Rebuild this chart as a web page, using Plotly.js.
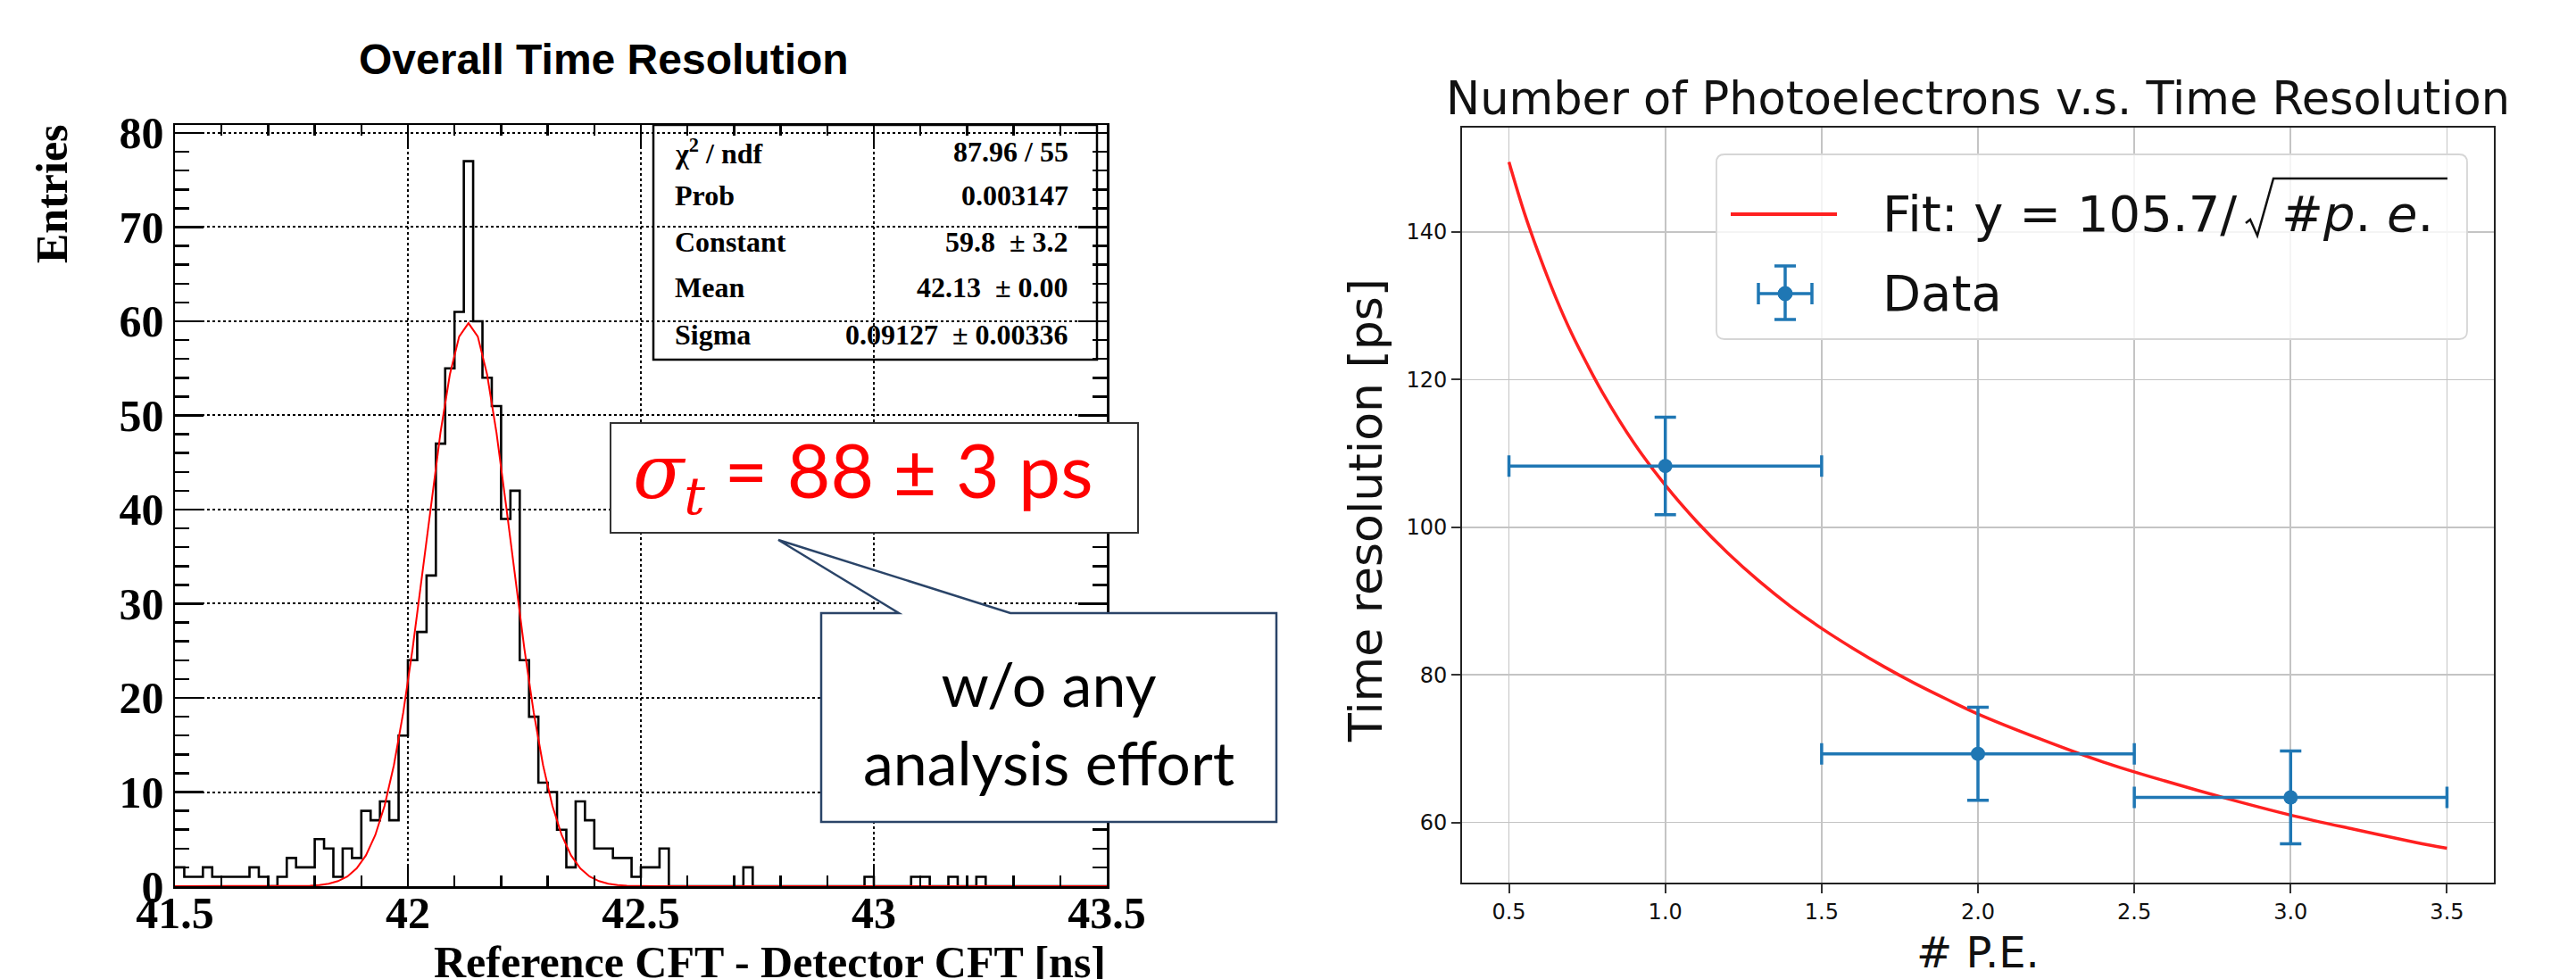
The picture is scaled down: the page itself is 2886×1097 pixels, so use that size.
<!DOCTYPE html>
<html>
<head>
<meta charset="utf-8">
<script src="https://cdn.plot.ly/plotly-3.0.1.min.js"></script>
<style>html,body{margin:0;padding:0;background:#fff;}#chart{width:2886px;height:1097px;}</style>
</head>
<body>
<div id="chart"></div>
<script>
// ---------- Left panel: histogram (ROOT style) ----------
const histBinStart = 41.5;
const histBinWidth = 0.02;
const histCounts = [
  2,1,1,2,1,1,1,1,2,1,
  0,1,3,2,2,5,4,1,4,3,
  8,7,9,7,16,24,27,33,47,55,
  61,77,60,54,51,39,42,24,18,11,
  10,6,2,9,7,4,4,3,3,1,
  2,2,4,0,0,0,0,0,0,0,
  0,2,0,0,0,0,0,0,0,0,
  0,0,0,0,1,0,0,0,0,1,
  1,0,0,1,0,0,1,0,0,0,
  0,0,0,0,0,0,0,0,0,0
];
// Gaussian fit curve
const gausX = [41.5, 41.73,41.75,41.77,41.79,41.81,41.83,41.85,41.87,41.89,41.91,41.93,41.95,41.97,41.99,
  42.01,42.03,42.05,42.07,42.09,42.11,42.13,42.15,42.17,42.19,42.21,42.23,42.25,42.27,42.29,
  42.31,42.33,42.35,42.37,42.39,42.41,42.43,42.45,42.47,42.49,42.51,42.53, 43.5];
const gausY = [0, 0.004,0.010,0.025,0.058,0.128,0.27,0.54,1.03,1.89,3.28,5.43,8.55,12.87,18.44,
  25.19,32.80,40.70,48.20,54.33,58.38,59.80,58.38,54.33,48.20,40.70,32.80,25.19,18.44,12.87,
  8.55,5.43,3.28,1.89,1.03,0.54,0.27,0.128,0.058,0.025,0.010,0.004, 0];
const statLabels = ["χ<sup>2</sup> / ndf", "Prob", "Constant", "Mean", "Sigma"];
const statValues = ["87.96 / 55", "0.003147", "59.8 \u00a0± 3.2", "42.13 \u00a0± 0.00", "0.09127 \u00a0± 0.00336"];
const leftXTicks = [41.5, 42, 42.5, 43, 43.5];
const leftYTicks = [0, 10, 20, 30, 40, 50, 60, 70, 80];

// ---------- Right panel: photoelectrons vs time resolution ----------
const peX = [1, 2, 3];
const peY = [108.3, 69.3, 63.4];
const peXErr = [0.5, 0.5, 0.5];
const peYErr = [6.6, 6.3, 6.3];
const fitCurveX = [0.5,0.55,0.6,0.65,0.7,0.75,0.8,0.9,1.0,1.1,1.2,1.3,1.4,1.5,1.6,1.7,1.8,1.9,2.0,2.2,2.4,2.6,2.8,3.0,3.2,3.4,3.5];
const fitCurveY = [149.5,142.5,136.5,131.1,126.3,122.1,118.2,111.4,105.7,100.8,96.5,92.7,89.3,86.3,83.6,81.1,78.8,76.7,74.7,71.3,68.2,65.6,63.2,61.0,59.1,57.3,56.5];
const rightXTicks = [0.5, 1.0, 1.5, 2.0, 2.5, 3.0, 3.5];
const rightYTicks = [60, 80, 100, 120, 140];

// ---------- helpers ----------
const W = 2886, H = 1097;
const px = x => x / W;
const py = y => 1 - y / H;

// histogram step outline from bin edges
const histEdges = histCounts.map((c, i) => +(histBinStart + i * histBinWidth).toFixed(4));
histEdges.push(+(histBinStart + histCounts.length * histBinWidth).toFixed(4));
const histStepY = histCounts.concat([histCounts[histCounts.length - 1]]);

const traces = [
  {x: histEdges, y: histStepY, type: 'scatter', mode: 'lines', line: {shape: 'hv', color: '#000', width: 2.6},
   xaxis: 'x', yaxis: 'y', hoverinfo: 'skip'},
  {x: gausX, y: gausY, type: 'scatter', mode: 'lines', line: {color: '#ff0000', width: 2},
   xaxis: 'x', yaxis: 'y', hoverinfo: 'skip'},
  {x: fitCurveX, y: fitCurveY, type: 'scatter', mode: 'lines', line: {color: '#ff2020', width: 3.5, shape: 'spline', smoothing: 1},
   xaxis: 'x2', yaxis: 'y2', name: 'Fit'},
  {x: peX, y: peY, type: 'scatter', mode: 'markers', marker: {color: '#1f77b4', size: 16},
   error_x: {type: 'data', array: peXErr, color: '#1f77b4', thickness: 3.5, width: 12},
   error_y: {type: 'data', array: peYErr, color: '#1f77b4', thickness: 3.5, width: 12},
   xaxis: 'x2', yaxis: 'y2', name: 'Data'}
];

const rootFont = {family: 'Liberation Serif, Times New Roman, serif', size: 50, color: '#000', weight: 'bold'};
const mplFont = {family: 'DejaVu Sans, sans-serif', color: '#111'};

const layout = {
  width: W, height: H,
  margin: {l: 0, r: 0, t: 0, b: 0},
  paper_bgcolor: '#fff', plot_bgcolor: 'rgba(0,0,0,0)',
  showlegend: false,
  xaxis: {
    domain: [px(196), px(1240)], range: [41.5, 43.5], anchor: 'y',
    tickmode: 'array', tickvals: leftXTicks,
    ticks: 'inside', ticklen: 24, tickwidth: 2.5, tickcolor: '#000',
    minor: {dtick: 0.1, tick0: 41.5, ticks: 'inside', ticklen: 12, tickwidth: 2.5, tickcolor: '#000', showgrid: false},
    showline: true, linecolor: '#000', linewidth: 2.5, mirror: 'ticks',
    showgrid: true, gridcolor: '#000', gridwidth: 2, griddash: 'dot',
    zeroline: false, tickfont: rootFont, ticklabelstandoff: -16
  },
  yaxis: {
    domain: [py(993), py(140)], range: [0, 80.85], anchor: 'x',
    tickmode: 'array', tickvals: leftYTicks,
    ticks: 'inside', ticklen: 32, tickwidth: 2.5, tickcolor: '#000',
    minor: {dtick: 2, tick0: 0, ticks: 'inside', ticklen: 16, tickwidth: 2.5, tickcolor: '#000', showgrid: false},
    showline: true, linecolor: '#000', linewidth: 2.5, mirror: 'ticks',
    showgrid: true, gridcolor: '#000', gridwidth: 2, griddash: 'dot',
    zeroline: false, tickfont: rootFont
  },
  xaxis2: {
    domain: [px(1638), px(2794)], range: [0.35, 3.65], anchor: 'y2',
    tickmode: 'array', tickvals: rightXTicks, tickformat: '.1f',
    ticks: 'outside', ticklen: 10, tickwidth: 2, tickcolor: '#333',
    showline: true, linecolor: '#222', linewidth: 2, mirror: true,
    showgrid: true, gridcolor: '#c4c4c4', gridwidth: 1.8,
    zeroline: false, tickfont: Object.assign({size: 24}, mplFont)
  },
  yaxis2: {
    domain: [py(989), py(143)], range: [51.85, 154.15], anchor: 'x2',
    tickmode: 'array', tickvals: rightYTicks,
    ticks: 'outside', ticklen: 10, tickwidth: 2, tickcolor: '#333',
    showline: true, linecolor: '#222', linewidth: 2, mirror: true,
    showgrid: true, gridcolor: '#c4c4c4', gridwidth: 1.8,
    zeroline: false, tickfont: Object.assign({size: 24}, mplFont)
  },
  shapes: [],
  annotations: []
};

const A = layout.annotations, S = layout.shapes;
function ann(x, y, text, font, extra) {
  A.push(Object.assign({xref: 'paper', yref: 'paper', x: px(x), y: py(y), text: text, showarrow: false,
    font: font, xanchor: 'center', yanchor: 'middle'}, extra || {}));
}
function pathOf(pts, close) {
  return pts.map((p, i) => (i ? 'L' : 'M') + px(p[0]).toFixed(6) + ',' + py(p[1]).toFixed(6)).join(' ') + (close ? ' Z' : '');
}

// ---- left panel texts ----
ann(676, 66, 'Overall Time Resolution', {family: 'Liberation Sans, Arial, sans-serif', size: 48, color: '#000', weight: 'bold'});
ann(1241, 1078, 'Reference CFT - Detector CFT [ns]', rootFont, {xanchor: 'right'});
ann(58, 217, 'Entries', rootFont, {textangle: -90});

// stats box
S.push({type: 'rect', xref: 'paper', yref: 'paper', x0: px(732), x1: px(1229), y0: py(403), y1: py(140),
  line: {color: '#000', width: 2.5}, fillcolor: 'rgba(0,0,0,0)', layer: 'above'});
const statY = [170, 219, 271, 322, 375];
const statFont = {family: 'Liberation Serif, Times New Roman, serif', size: 32, color: '#000', weight: 'bold'};
statLabels.forEach((t, i) => ann(754, statY[i], t, statFont, {xanchor: 'left'}));
statValues.forEach((t, i) => ann(1199, statY[i], t, statFont, {xanchor: 'right'}));

// callout 1
S.push({type: 'rect', xref: 'paper', yref: 'paper', x0: px(684), x1: px(1275), y0: py(597), y1: py(474),
  line: {color: '#333', width: 2}, fillcolor: '#fff', layer: 'above'});
ann(967, 532, '<span style="font-family:DejaVu Serif"><i>σ</i><sub><i>t</i></sub></span> = 88 ± 3 ps',
  {family: 'Lato, Open Sans, sans-serif', size: 84, color: '#ff0000'});

// callout 2 (speech bubble)
S.push({type: 'path', xref: 'paper', yref: 'paper', layer: 'above',
  path: pathOf([[920, 687], [1007, 687], [872, 605], [1132, 687], [1430, 687], [1430, 921], [920, 921]], true),
  line: {color: '#2a4468', width: 2.5}, fillcolor: '#fff'});
ann(1175, 809, 'w/o any<br>analysis effort', {family: 'Lato, Open Sans, sans-serif', size: 68, color: '#000'});

// ---- right panel texts ----
ann(2216, 110, 'Number of Photoelectrons v.s. Time Resolution', Object.assign({size: 51}, mplFont));
ann(2216, 1067, '# P.E.', Object.assign({size: 48}, mplFont));
ann(1530, 572, 'Time resolution [ps]', Object.assign({size: 52}, mplFont), {textangle: -90});

// legend (matplotlib style)
const lx0 = 1923, lx1 = 2764, ly0 = 173, ly1 = 380, r = 9;
S.push({type: 'path', xref: 'paper', yref: 'paper', layer: 'above',
  path: 'M' + px(lx0 + r) + ',' + py(ly0) + ' L' + px(lx1 - r) + ',' + py(ly0) +
        ' Q' + px(lx1) + ',' + py(ly0) + ' ' + px(lx1) + ',' + py(ly0 + r) +
        ' L' + px(lx1) + ',' + py(ly1 - r) + ' Q' + px(lx1) + ',' + py(ly1) + ' ' + px(lx1 - r) + ',' + py(ly1) +
        ' L' + px(lx0 + r) + ',' + py(ly1) + ' Q' + px(lx0) + ',' + py(ly1) + ' ' + px(lx0) + ',' + py(ly1 - r) +
        ' L' + px(lx0) + ',' + py(ly0 + r) + ' Q' + px(lx0) + ',' + py(ly0) + ' ' + px(lx0 + r) + ',' + py(ly0) + ' Z',
  line: {color: '#d6d6d6', width: 1.8}, fillcolor: 'rgba(255,255,255,0.82)'});
S.push({type: 'line', xref: 'paper', yref: 'paper', layer: 'above', x0: px(1939), x1: px(2058), y0: py(240), y1: py(240),
  line: {color: '#ff2020', width: 4}});
ann(2107, 240, 'Fit: y = 105.7/', Object.assign({size: 56}, mplFont), {xanchor: 'left'});
S.push({type: 'path', xref: 'paper', yref: 'paper', layer: 'above',
  path: pathOf([[2516, 250], [2521, 246], [2529, 264], [2547, 200], [2742, 200]], false),
  line: {color: '#111', width: 2.5}});
ann(2554, 240, '#<i>p</i>. <i>e</i>.', Object.assign({size: 56}, mplFont), {xanchor: 'left'});
// Data legend glyph
const gx = 2000, gy = 329, gc = '#1f77b4';
const glyphLines = [[1970, gy, 2030, gy], [1970, gy - 12, 1970, gy + 12], [2030, gy - 12, 2030, gy + 12],
  [gx, 298, gx, 358], [gx - 12, 298, gx + 12, 298], [gx - 12, 358, gx + 12, 358]];
glyphLines.forEach(l => S.push({type: 'line', xref: 'paper', yref: 'paper', layer: 'above',
  x0: px(l[0]), y0: py(l[1]), x1: px(l[2]), y1: py(l[3]), line: {color: gc, width: 3.5}}));
S.push({type: 'circle', xref: 'paper', yref: 'paper', layer: 'above',
  x0: px(gx - 8), x1: px(gx + 8), y0: py(gy + 8), y1: py(gy - 8), fillcolor: gc, line: {color: gc, width: 1}});
ann(2107, 329, 'Data', Object.assign({size: 56}, mplFont), {xanchor: 'left'});

Plotly.newPlot('chart', traces, layout, {staticPlot: true, displayModeBar: false});
</script>
</body>
</html>
